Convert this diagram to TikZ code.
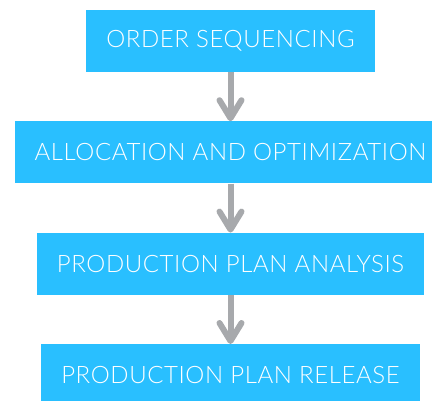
\documentclass[tikz,border=0pt]{standalone}
\usepackage{fontspec}
\usepackage{tikz}
\usetikzlibrary{positioning}
\usetikzlibrary{arrows.meta}

\newfontfamily\stagefont[LetterSpace=2.5]{Lato Light}
\definecolor{stageblue}{HTML}{29BFFF}
\definecolor{flowgray}{HTML}{A7A9AC}

\begin{document}
\begin{tikzpicture}
		[stage/.style={fill=stageblue, text=white, minimum height=62pt, inner xsep=20pt, node distance=49pt, font=\stagefont\fontsize{24}{30}\selectfont},
		 flow/.style={draw=flowgray, line width=6pt, -{Straight Barb[length=18pt, width=22pt, round]}}]
		\useasboundingbox (0,0) rectangle (432pt,-400pt);
		\node[stage] (order) at (230.5pt,-41pt) {ORDER SEQUENCING};
		\node[stage, below=of order] (alloc) {ALLOCATION AND OPTIMIZATION};
		\node[stage, below=of alloc] (analysis) {PRODUCTION PLAN ANALYSIS};
		\node[stage, below=of analysis] (release) {PRODUCTION PLAN RELEASE};

		\draw[flow] (order) to (alloc);
		\draw[flow] (alloc) to (analysis);
		\draw[flow] (analysis) to (release);
	\end{tikzpicture}
\end{document}
